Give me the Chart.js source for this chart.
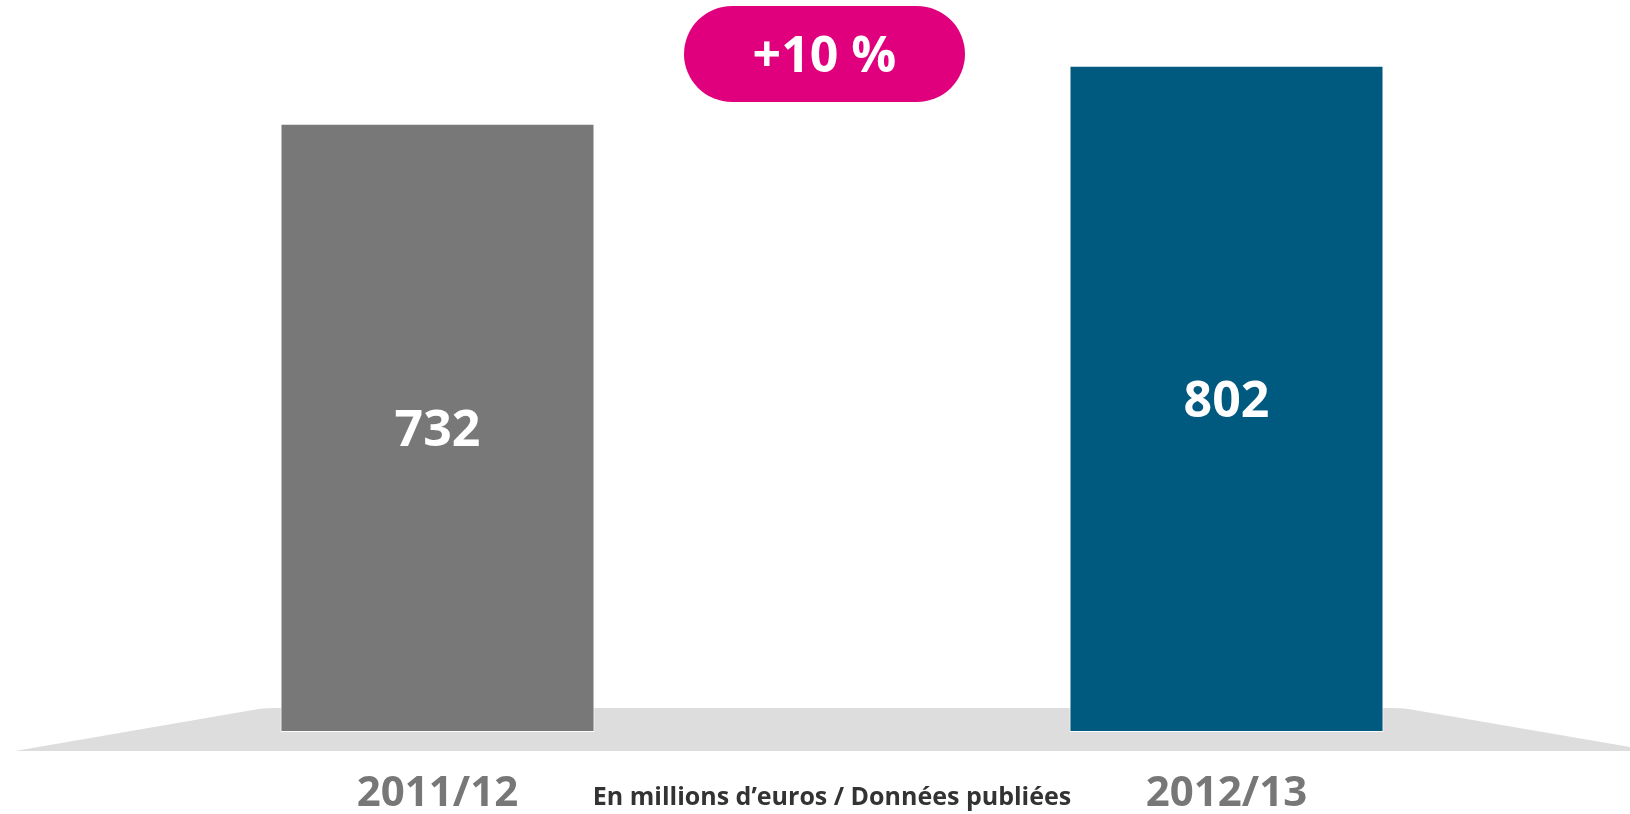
<!DOCTYPE html>
<html lang="fr">
<head>
<meta charset="utf-8">
<title>Chiffre d'affaires</title>
<script src="https://cdn.jsdelivr.net/npm/chart.js@4.4.1/dist/chart.umd.min.js"></script>
<style>
  html, body { margin: 0; padding: 0; background: #ffffff; }
  #wrap { width: 1630px; height: 814px; }
</style>
</head>
<body>
<div id="wrap"><canvas id="chart" width="1630" height="814"></canvas></div>
<script>
// Exercices comptables et montants (en millions d'euros)
const periods = ['2011/12', '2012/13'];
const amounts = [732, 802];
const barColors = ['#787878', '#005a80'];
const unitNote = 'En millions d\u2019euros / Donn\u00e9es publi\u00e9es';

const FONT = '"Open Sans", "Noto Sans", "Liberation Sans", sans-serif';

// Variation d'un exercice à l'autre, arrondie au pourcent
const growthPct = Math.round((amounts[1] - amounts[0]) / amounts[0] * 100);
const growthText = (growthPct >= 0 ? '+' : '') + growthPct + ' %';

// Socle gris en perspective sous les barres
const floorPlugin = {
  id: 'floor',
  beforeDatasetsDraw(chart) {
    const { ctx, width } = chart;
    const y0 = chart.scales.y.getPixelForValue(0);
    const bars = chart.getDatasetMeta(0).data;
    const left = bars[0].x - bars[0].width / 2 - 14;
    const right = bars[bars.length - 1].x + bars[bars.length - 1].width / 2 + 17;
    const top = y0 - 24, bottom = y0 + 19;
    ctx.save();
    ctx.fillStyle = '#dddddd';
    ctx.beginPath();
    ctx.moveTo(15, bottom);
    ctx.lineTo(left - 8, top + 1);
    ctx.quadraticCurveTo(left, top, left + 8, top);
    ctx.lineTo(right - 8, top);
    ctx.quadraticCurveTo(right, top, right + 8, top + 1);
    ctx.lineTo(width, bottom - 4);
    ctx.lineTo(width, bottom);
    ctx.closePath();
    ctx.fill();
    ctx.restore();
  }
};

// Montants écrits au milieu de chaque barre + pastille de variation
const labelsPlugin = {
  id: 'barLabels',
  afterDatasetsDraw(chart) {
    const { ctx } = chart;
    const meta = chart.getDatasetMeta(0);
    ctx.save();
    ctx.fillStyle = '#ffffff';
    ctx.textAlign = 'center';
    ctx.textBaseline = 'alphabetic';
    const size = 50;
    ctx.font = '700 ' + size + 'px ' + FONT;
    meta.data.forEach((bar, i) => {
      const mid = (bar.y + bar.base) / 2;
      ctx.fillText(String(amounts[i]), bar.x, mid + size * 0.36);
    });

    // Pastille de variation
    const cx = (meta.data[0].x + meta.data[1].x) / 2 - 7.5;
    const h = 96, w = 281, r = h / 2;
    const top = chart.chartArea.top + 6;
    ctx.fillStyle = '#e0007e';
    ctx.beginPath();
    ctx.roundRect(cx - w / 2, top, w, h, r);
    ctx.fill();
    ctx.fillStyle = '#ffffff';
    const ps = 50;
    ctx.font = '700 ' + ps + 'px ' + FONT;
    ctx.fillText(growthText, cx, top + h / 2 + ps * 0.36);
    ctx.restore();
  }
};

new Chart(document.getElementById('chart'), {
  type: 'bar',
  data: {
    labels: periods,
    datasets: [{
      data: amounts,
      backgroundColor: barColors,
      borderColor: 'rgba(255,255,255,0.9)',
      borderWidth: 1,
      borderSkipped: false,
      categoryPercentage: 1,
      barPercentage: 0.398
    }]
  },
  options: {
    responsive: false,
    animation: false,
    devicePixelRatio: 1,
    layout: { padding: { left: 43, right: 9, top: 0, bottom: 0 } },
    plugins: { legend: { display: false }, tooltip: { enabled: false } },
    scales: {
      y: { display: false, min: 0, max: 881 },
      x: {
        grid: { display: false, drawTicks: false },
        border: { display: false },
        ticks: {
          color: '#777777',
          padding: 37,
          font: { family: FONT, size: 42, weight: 'bold' }
        },
        title: {
          display: true,
          text: unitNote,
          color: '#333333',
          padding: { top: 0, bottom: 1 },
          font: { family: FONT, size: 25, weight: 'bold', lineHeight: 1.2 }
        },
        afterFit(scale) { scale.height = 82; }
      }
    }
  },
  plugins: [floorPlugin, labelsPlugin]
});
</script>
</body>
</html>
